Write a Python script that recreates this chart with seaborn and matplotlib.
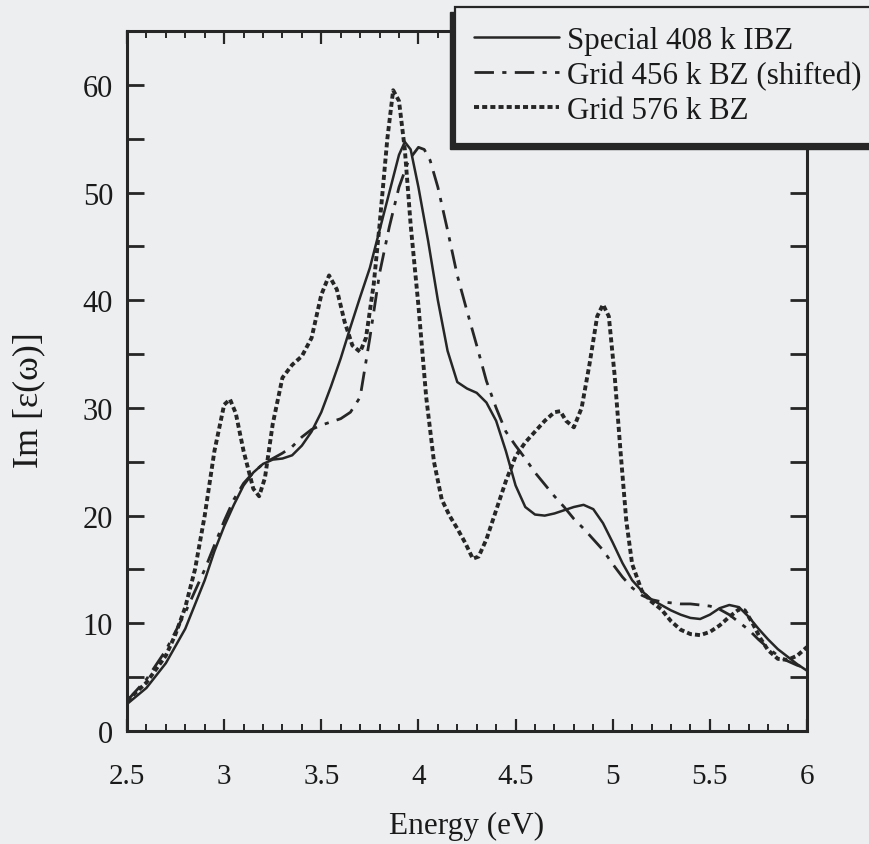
import numpy as np
import pandas as pd
import matplotlib
matplotlib.use("Agg")
import matplotlib.pyplot as plt
from matplotlib.ticker import MultipleLocator
from matplotlib.patches import Rectangle
import seaborn as sns

# ---- data ----
special_x = [2.50, 2.60, 2.70, 2.80, 2.90, 2.95, 3.00, 3.05, 3.10, 3.15, 3.20, 3.25, 3.30, 3.35,
             3.40, 3.45, 3.50, 3.55, 3.60, 3.65, 3.70, 3.75, 3.80, 3.85, 3.90, 3.93, 3.96, 4.00,
             4.05, 4.10, 4.15, 4.20, 4.25, 4.30, 4.35, 4.40, 4.45, 4.50, 4.55, 4.60, 4.65, 4.70,
             4.75, 4.80, 4.85, 4.90, 4.95, 5.00, 5.05, 5.10, 5.15, 5.20, 5.25, 5.30, 5.35, 5.40,
             5.45, 5.50, 5.55, 5.60, 5.65, 5.70, 5.75, 5.80, 5.85, 5.90, 5.95, 6.00]
special_y = [2.5, 4.0, 6.3, 9.5, 14.0, 16.7, 19.0, 21.0, 22.8, 24.0, 24.8, 25.2, 25.3, 25.6,
             26.5, 27.8, 29.6, 32.0, 34.6, 37.5, 40.3, 43.0, 46.5, 50.0, 53.5, 54.7, 54.0, 50.5,
             45.5, 40.0, 35.3, 32.4, 31.8, 31.4, 30.5, 28.8, 26.0, 22.8, 20.8, 20.1, 20.0, 20.2,
             20.5, 20.8, 21.0, 20.6, 19.3, 17.5, 15.6, 14.0, 13.0, 12.2, 11.7, 11.2, 10.8, 10.5,
             10.4, 10.8, 11.4, 11.7, 11.5, 10.6, 9.5, 8.5, 7.6, 6.9, 6.2, 5.6]

grid456_x = [2.50, 2.60, 2.70, 2.80, 2.90, 3.00, 3.05, 3.10, 3.15, 3.20, 3.25, 3.30, 3.35, 3.40,
             3.45, 3.50, 3.55, 3.60, 3.65, 3.70, 3.75, 3.80, 3.85, 3.90, 3.95, 4.00, 4.03, 4.06,
             4.10, 4.15, 4.20, 4.25, 4.30, 4.35, 4.40, 4.45, 4.50, 4.55, 4.60, 4.65, 4.70, 4.75,
             4.80, 4.85, 4.90, 4.95, 5.00, 5.05, 5.10, 5.15, 5.20, 5.25, 5.30, 5.35, 5.40, 5.45,
             5.50, 5.55, 5.60, 5.65, 5.70, 5.75, 5.80, 5.85, 5.90, 5.95, 6.00]
grid456_y = [2.8, 4.8, 7.5, 11.0, 15.0, 19.5, 21.5, 23.0, 24.0, 24.8, 25.3, 25.8, 26.4, 27.3,
             28.0, 28.4, 28.7, 29.0, 29.6, 31.0, 36.5, 42.5, 46.8, 50.5, 53.0, 54.2, 54.0, 53.0,
             50.5, 46.5, 42.3, 39.0, 35.8, 32.5, 30.0, 27.8, 26.5, 25.3, 24.0, 22.9, 21.8, 20.8,
             19.7, 18.8, 17.8, 16.8, 15.5, 14.3, 13.3, 12.6, 12.2, 12.0, 11.9, 11.8, 11.8, 11.7,
             11.6, 11.3, 10.8, 10.1, 9.4, 8.5, 7.7, 7.0, 6.5, 6.1, 5.8]

grid576_x = [2.50, 2.60, 2.70, 2.75, 2.80, 2.85, 2.90, 2.95, 3.00, 3.03, 3.06, 3.10, 3.15, 3.18,
             3.21, 3.25, 3.30, 3.35, 3.40, 3.45, 3.50, 3.54, 3.58, 3.62, 3.66, 3.70, 3.73, 3.77,
             3.80, 3.84, 3.87, 3.90, 3.93, 3.96, 4.00, 4.04, 4.08, 4.12, 4.16, 4.20, 4.24, 4.28,
             4.31, 4.35, 4.40, 4.45, 4.50, 4.55, 4.60, 4.65, 4.70, 4.73, 4.76, 4.80, 4.84, 4.88,
             4.92, 4.95, 4.98, 5.01, 5.04, 5.07, 5.10, 5.15, 5.20, 5.25, 5.30, 5.35, 5.40, 5.45,
             5.50, 5.55, 5.60, 5.65, 5.68, 5.72, 5.76, 5.80, 5.85, 5.90, 5.95, 6.00]
grid576_y = [2.8, 4.5, 7.0, 9.0, 11.5, 15.0, 20.0, 26.0, 30.3, 30.8, 29.5, 26.0, 22.5, 21.8,
             23.5, 28.5, 32.8, 34.0, 34.8, 36.5, 40.5, 42.3, 41.0, 38.0, 35.8, 35.2, 36.5, 41.5,
             47.0, 55.0, 59.5, 58.5, 54.0, 47.0, 39.5, 31.0, 25.0, 21.5, 20.0, 18.8, 17.5, 16.0,
             16.2, 17.8, 20.5, 23.2, 25.5, 26.8, 27.8, 28.8, 29.6, 29.7, 28.8, 28.2, 30.0, 34.0,
             38.5, 39.6, 38.5, 33.0, 26.0, 19.5, 15.5, 13.0, 12.0, 11.3, 10.2, 9.4, 9.0, 8.9,
             9.2, 9.8, 10.6, 11.3, 11.2, 10.0, 8.6, 7.5, 6.7, 6.6, 7.0, 7.8]

labels = ["Special 408 k IBZ", "Grid 456 k BZ (shifted)", "Grid 576 k BZ"]
x_ticks = [2.5, 3, 3.5, 4, 4.5, 5, 5.5, 6]
x_ticklabels = ["2.5", "3", "3.5", "4", "4.5", "5", "5.5", "6"]
y_ticks = [0, 10, 20, 30, 40, 50, 60]

# ---- style ----
sns.set_theme(style="ticks")
plt.rcParams["font.family"] = ["Liberation Serif", "DejaVu Serif"]

bg = "#eceef0"
ink = "#262626"
txt = "#1a1a1a"

W, H = 870, 845
fig = plt.figure(figsize=(W / 100, H / 100), dpi=100, facecolor=bg)
ax = fig.add_axes([127 / W, 1 - 732 / H, (807 - 127) / W, 700 / H])
ax.set_facecolor(bg)

series = [
    (special_x, special_y, labels[0], "-", 1.8),
    (grid456_x, grid456_y, labels[1], (0, (7, 3, 1.5, 3)), 2.0),
    (grid576_x, grid576_y, labels[2], (0, (1.3, 0.8)), 2.8),
]
for xs, ys, lab, ls, lw in series:
    df = pd.DataFrame({"Energy": xs, "Im": ys})
    sns.lineplot(data=df, x="Energy", y="Im", ax=ax, color=ink, linewidth=lw,
                 linestyle=ls, label=lab, errorbar=None, legend=False,
                 dash_capstyle="butt", solid_capstyle="round")

ax.set_xlim(2.5, 6)
ax.set_ylim(0, 65)
ax.set_xticks(x_ticks)
ax.set_xticklabels(x_ticklabels)
ax.set_yticks(y_ticks)
ax.xaxis.set_minor_locator(MultipleLocator(0.1))
ax.yaxis.set_minor_locator(MultipleLocator(5))

for s in ax.spines.values():
    s.set_visible(True)
    s.set_linewidth(2.2)
    s.set_color(ink)

ax.tick_params(axis="both", which="both", direction="in", top=True, right=True,
               color=ink, labelcolor=txt)
ax.tick_params(axis="x", which="major", length=9, width=1.6, pad=23, labelsize=21)
ax.tick_params(axis="x", which="minor", length=5, width=1.4)
ax.tick_params(axis="y", which="major", length=12, width=2.0, pad=10, labelsize=22)
ax.tick_params(axis="y", which="minor", length=12, width=2.0)

ax.set_xlabel("Energy (eV)", fontsize=22.5, color=txt, labelpad=16)
ax.set_ylabel("Im [ε(ω)]", fontsize=26, color=txt)
ax.yaxis.set_label_coords(-0.12, 0.474)

handles = ax.get_lines()[:3]
leg = fig.legend(handles, labels, loc="upper left",
                 bbox_to_anchor=(455 / W, 1 - 8 / H), bbox_transform=fig.transFigure,
                 fontsize=22.3, frameon=True, fancybox=False, framealpha=1,
                 facecolor=bg, edgecolor=ink, handlelength=2.75, handletextpad=0.27,
                 labelspacing=0.2, borderpad=0.6, borderaxespad=0)
leg.get_frame().set_linewidth(1.6)
leg.set_zorder(6)
for t in leg.get_texts():
    t.set_color(txt)

# hand-made shadow offset to the lower left of the legend frame
fig.canvas.draw()
fb = leg.get_frame().get_window_extent(fig.canvas.get_renderer())
sh = Rectangle(((fb.x0 - 5) / W, (fb.y0 - 5) / H), fb.width / W, fb.height / H,
               transform=fig.transFigure, facecolor=ink, edgecolor=ink, zorder=5.5)
fig.add_artist(sh)

fig.savefig("out.png", dpi=100, facecolor=bg)
